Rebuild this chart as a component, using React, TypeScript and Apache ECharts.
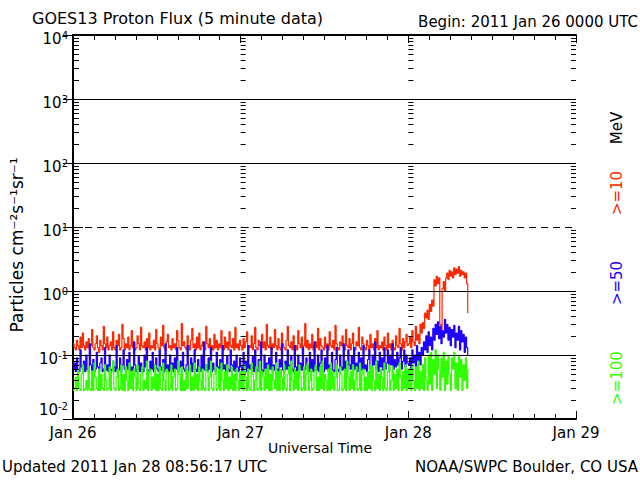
import React, { useEffect, useRef } from "react";
import * as echarts from "echarts";

// Time axis: hours since 2011 Jan 26 00:00 UTC, samples every 10 minutes
const STEP_HOURS = 1 / 6;
const xTickLabels = ["Jan 26", "Jan 27", "Jan 28", "Jan 29"];

// >=10 MeV (red)
const red26 = [
  0.15, 0.13, 0.12, 0.17, 0.14, 0.12, 0.19, 0.13, 0.22, 0.14, 0.12, 0.16,
  0.13, 0.18, 0.12, 0.14, 0.25, 0.13, 0.12, 0.15, 0.2, 0.13, 0.11, 0.17,
  0.14, 0.12, 0.28, 0.15, 0.13, 0.19, 0.12, 0.14, 0.16, 0.12, 0.23, 0.13,
  0.12, 0.17, 0.14, 0.21, 0.12, 0.13, 0.3, 0.18, 0.12, 0.15, 0.13, 0.19,
  0.12, 0.14, 0.24, 0.13, 0.16, 0.12, 0.13, 0.2, 0.15, 0.12, 0.27, 0.14,
  0.13, 0.16, 0.12, 0.18, 0.13, 0.22, 0.12, 0.14, 0.13, 0.17, 0.12, 0.25,
  0.15, 0.13, 0.12, 0.19, 0.14, 0.29, 0.13, 0.12, 0.16, 0.21, 0.13, 0.14,
  0.12, 0.18, 0.13, 0.15, 0.12, 0.24, 0.17, 0.13, 0.12, 0.31, 0.14, 0.16,
  0.13, 0.12, 0.2, 0.14, 0.12, 0.17, 0.26, 0.13, 0.15, 0.12, 0.19, 0.13,
  0.22, 0.12, 0.14, 0.16, 0.13, 0.12, 0.28, 0.15, 0.13, 0.18, 0.12, 0.14,
  0.12, 0.21, 0.13, 0.17, 0.12, 0.15, 0.13, 0.24, 0.14, 0.12, 0.19, 0.13,
  0.16, 0.12, 0.23, 0.14, 0.13, 0.18, 0.12, 0.27, 0.13, 0.15, 0.12, 0.17,
];
const red27 = [
  0.14, 0.12, 0.18, 0.13, 0.16, 0.23, 0.12, 0.14, 0.13, 0.2, 0.12, 0.15,
  0.27, 0.13, 0.12, 0.17, 0.14, 0.12, 0.21, 0.13, 0.16, 0.12, 0.3, 0.14,
  0.13, 0.19, 0.12, 0.15, 0.13, 0.25, 0.14, 0.12, 0.18, 0.13, 0.12, 0.22,
  0.15, 0.13, 0.12, 0.17, 0.28, 0.14, 0.13, 0.16, 0.12, 0.2, 0.13, 0.14,
  0.12, 0.24, 0.15, 0.13, 0.19, 0.12, 0.14, 0.31, 0.13, 0.17, 0.12, 0.15,
  0.13, 0.21, 0.12, 0.14, 0.16, 0.13, 0.26, 0.12, 0.18, 0.14, 0.13, 0.12,
  0.19, 0.13, 0.15, 0.12, 0.23, 0.14, 0.13, 0.17, 0.12, 0.29, 0.15, 0.13,
  0.12, 0.16, 0.14, 0.2, 0.13, 0.12, 0.25, 0.14, 0.13, 0.18, 0.12, 0.15,
  0.22, 0.13, 0.12, 0.16, 0.14, 0.27, 0.13, 0.12, 0.19, 0.15, 0.13, 0.12,
  0.17, 0.14, 0.12, 0.21, 0.13, 0.15, 0.12, 0.18, 0.13, 0.24, 0.12, 0.14,
  0.13, 0.16, 0.12, 0.19, 0.14, 0.12, 0.22, 0.13, 0.15, 0.12, 0.17, 0.13,
  0.12, 0.2, 0.14, 0.13, 0.26, 0.15, 0.12, 0.18, 0.13, 0.16, 0.21, 0.14,
];
const red28 = [
  0.15, 0.19, 0.13, 0.24, 0.16, 0.14, 0.28, 0.17, 0.21, 0.15, 0.3, 0.22,
  0.32, 0.26, 0.45, 0.38, 0.5, 0.36, 0.62, 0.48, 0.72, 0.58, 1.5, 1.2,
  1.7, 1.3, 1.6, 0.3, 0.24, 1.1, 1.4, 1.0, 1.6, 1.9, 1.5, 2.1,
  1.7, 2.0, 1.6, 2.3, 1.8, 2.2, 1.9, 2.4, 1.7, 2.1, 1.8, 2.0,
  1.6, 1.9, 1.3, 0.45,
];

// >=50 MeV (blue)
const blue26 = [
  0.06, 0.075, 0.055, 0.09, 0.06, 0.055, 0.12, 0.065, 0.058, 0.08, 0.055, 0.1,
  0.06, 0.055, 0.15, 0.07, 0.058, 0.085, 0.055, 0.06, 0.11, 0.065, 0.055, 0.075,
  0.09, 0.055, 0.06, 0.13, 0.058, 0.07, 0.055, 0.1, 0.06, 0.055, 0.08, 0.065,
  0.055, 0.14, 0.06, 0.058, 0.09, 0.055, 0.07, 0.12, 0.06, 0.055, 0.085, 0.06,
  0.11, 0.055, 0.065, 0.058, 0.16, 0.07, 0.055, 0.06, 0.095, 0.055, 0.075, 0.06,
  0.055, 0.1, 0.065, 0.13, 0.058, 0.055, 0.08, 0.06, 0.11, 0.055, 0.07, 0.09,
  0.06, 0.055, 0.12, 0.065, 0.058, 0.085, 0.055, 0.15, 0.06, 0.07, 0.055, 0.1,
  0.058, 0.075, 0.055, 0.09, 0.06, 0.13, 0.055, 0.065, 0.08, 0.055, 0.11, 0.06,
  0.055, 0.07, 0.14, 0.058, 0.06, 0.09, 0.055, 0.075, 0.12, 0.06, 0.055, 0.085,
  0.065, 0.055, 0.1, 0.06, 0.16, 0.058, 0.07, 0.055, 0.09, 0.06, 0.13, 0.055,
  0.075, 0.06, 0.055, 0.11, 0.065, 0.058, 0.085, 0.055, 0.14, 0.06, 0.07, 0.055,
  0.095, 0.06, 0.055, 0.12, 0.07, 0.058, 0.08, 0.055, 0.1, 0.065, 0.055, 0.09,
];
const blue27 = [
  0.065, 0.055, 0.11, 0.06, 0.08, 0.055, 0.14, 0.06, 0.07, 0.058, 0.095, 0.055,
  0.12, 0.06, 0.055, 0.085, 0.065, 0.16, 0.058, 0.055, 0.1, 0.06, 0.075, 0.055,
  0.09, 0.06, 0.13, 0.055, 0.07, 0.058, 0.11, 0.06, 0.055, 0.085, 0.065, 0.15,
  0.058, 0.055, 0.08, 0.06, 0.12, 0.055, 0.07, 0.095, 0.06, 0.055, 0.14, 0.065,
  0.055, 0.1, 0.06, 0.075, 0.058, 0.13, 0.055, 0.06, 0.09, 0.07, 0.055, 0.11,
  0.06, 0.085, 0.055, 0.16, 0.065, 0.058, 0.1, 0.055, 0.075, 0.12, 0.06, 0.055,
  0.09, 0.06, 0.14, 0.055, 0.07, 0.065, 0.11, 0.058, 0.055, 0.085, 0.13, 0.06,
  0.055, 0.1, 0.065, 0.058, 0.15, 0.06, 0.08, 0.055, 0.12, 0.07, 0.06, 0.095,
  0.055, 0.13, 0.06, 0.075, 0.055, 0.11, 0.065, 0.09, 0.058, 0.14, 0.06, 0.07,
  0.055, 0.085, 0.12, 0.06, 0.055, 0.1, 0.07, 0.16, 0.06, 0.08, 0.055, 0.11,
  0.065, 0.09, 0.058, 0.13, 0.06, 0.075, 0.12, 0.055, 0.1, 0.07, 0.15, 0.06,
  0.085, 0.065, 0.11, 0.07, 0.09, 0.13, 0.06, 0.08, 0.12, 0.065, 0.1, 0.075,
];
const blue28 = [
  0.07, 0.09, 0.06, 0.12, 0.075, 0.1, 0.065, 0.14, 0.08, 0.11, 0.07, 0.13,
  0.1, 0.16, 0.12, 0.2, 0.11, 0.23, 0.14, 0.19, 0.12, 0.26, 0.17, 0.3,
  0.21, 0.33, 0.18, 0.28, 0.15, 0.24, 0.19, 0.36, 0.22, 0.3, 0.17, 0.27,
  0.14, 0.25, 0.19, 0.29, 0.13, 0.22, 0.17, 0.28, 0.12, 0.24, 0.16, 0.21,
  0.11, 0.19, 0.13, 0.1,
];

// >=100 MeV (green)
const green26 = [
  0.028, 0.03, 0.045, 0.028, 0.06, 0.03, 0.028, 0.05, 0.07, 0.028, 0.03, 0.04,
  0.028, 0.065, 0.03, 0.028, 0.055, 0.028, 0.075, 0.045, 0.03, 0.028, 0.06, 0.028,
  0.05, 0.03, 0.028, 0.07, 0.04, 0.028, 0.03, 0.065, 0.028, 0.055, 0.08, 0.03,
  0.028, 0.045, 0.06, 0.028, 0.03, 0.07, 0.028, 0.05, 0.028, 0.065, 0.04, 0.028,
  0.075, 0.03, 0.055, 0.028, 0.06, 0.045, 0.028, 0.07, 0.03, 0.028, 0.05, 0.065,
  0.028, 0.04, 0.03, 0.08, 0.028, 0.055, 0.06, 0.028, 0.045, 0.03, 0.07, 0.028,
  0.05, 0.028, 0.065, 0.03, 0.028, 0.075, 0.04, 0.028, 0.06, 0.055, 0.028, 0.03,
  0.07, 0.028, 0.045, 0.06, 0.028, 0.03, 0.08, 0.05, 0.028, 0.065, 0.028, 0.04,
  0.028, 0.06, 0.03, 0.055, 0.07, 0.028, 0.045, 0.028, 0.075, 0.03, 0.05, 0.028,
  0.065, 0.04, 0.028, 0.06, 0.03, 0.028, 0.07, 0.055, 0.028, 0.045, 0.08, 0.03,
  0.028, 0.05, 0.065, 0.028, 0.03, 0.06, 0.028, 0.075, 0.04, 0.028, 0.055, 0.03,
  0.07, 0.028, 0.045, 0.03, 0.065, 0.028, 0.05, 0.028, 0.06, 0.04, 0.028, 0.055,
];
const green27 = [
  0.03, 0.055, 0.028, 0.07, 0.045, 0.028, 0.06, 0.03, 0.028, 0.075, 0.05, 0.028,
  0.04, 0.065, 0.028, 0.03, 0.08, 0.028, 0.055, 0.045, 0.028, 0.06, 0.03, 0.07,
  0.028, 0.05, 0.028, 0.065, 0.04, 0.03, 0.075, 0.028, 0.055, 0.028, 0.06, 0.045,
  0.028, 0.07, 0.03, 0.028, 0.05, 0.065, 0.028, 0.08, 0.04, 0.028, 0.06, 0.03,
  0.055, 0.028, 0.07, 0.045, 0.028, 0.03, 0.065, 0.028, 0.05, 0.075, 0.028, 0.04,
  0.06, 0.028, 0.03, 0.055, 0.07, 0.028, 0.045, 0.028, 0.065, 0.03, 0.08, 0.028,
  0.05, 0.04, 0.028, 0.06, 0.028, 0.075, 0.03, 0.055, 0.028, 0.045, 0.07, 0.028,
  0.028, 0.065, 0.05, 0.028, 0.03, 0.06, 0.028, 0.08, 0.045, 0.028, 0.055, 0.03,
  0.07, 0.028, 0.04, 0.065, 0.028, 0.03, 0.075, 0.028, 0.05, 0.06, 0.028, 0.045,
  0.028, 0.055, 0.03, 0.07, 0.028, 0.065, 0.04, 0.028, 0.08, 0.03, 0.05, 0.028,
  0.06, 0.045, 0.028, 0.075, 0.03, 0.028, 0.055, 0.07, 0.028, 0.04, 0.065, 0.028,
  0.05, 0.03, 0.06, 0.028, 0.075, 0.045, 0.028, 0.055, 0.03, 0.07, 0.028, 0.06,
];
const green28 = [
  0.03, 0.06, 0.028, 0.07, 0.04, 0.028, 0.065, 0.03, 0.08, 0.028, 0.055, 0.03,
  0.07, 0.028, 0.09, 0.04, 0.028, 0.1, 0.035, 0.11, 0.028, 0.085, 0.05, 0.12,
  0.03, 0.1, 0.06, 0.028, 0.09, 0.045, 0.11, 0.028, 0.08, 0.035, 0.1, 0.05,
  0.028, 0.09, 0.06, 0.11, 0.03, 0.075, 0.028, 0.1, 0.045, 0.085, 0.028, 0.07,
  0.04, 0.09, 0.03, 0.06,
];

const redFlux = [...red26, ...red27, ...red28];
const blueFlux = [...blue26, ...blue27, ...blue28];
const greenFlux = [...green26, ...green27, ...green28];

const RED = "#ff2800";
const BLUE = "#2000ff";
const GREEN = "#30ff00";
const FONT = "DejaVu Sans";
const LINE_W = 1.2;

const solidGridValues = [1000, 100, 1, 0.1];
const dashedGridValues = [10];

export default function App() {
  const ref = useRef<HTMLDivElement>(null);

  useEffect(() => {
    if (!ref.current) return;
    const chart = echarts.init(ref.current, null, { renderer: "svg" });

    const toPairs = (arr: number[]) => arr.map((v, i) => [i * STEP_HOURS, v]);

    // minor log ticks (2..9 per decade) and decade ticks for the inner columns
    const tickItems: number[][] = [];
    for (let d = -2; d <= 3; d++) {
      for (let m = 2; m <= 9; m++) tickItems.push([0, m * Math.pow(10, d), 0]);
    }
    for (let d = -2; d <= 4; d++) tickItems.push([0, Math.pow(10, d), 1]);

    const xAxisCommon = {
      type: "value",
      min: 0,
      max: 72,
      interval: 24,
      axisLine: { show: true, lineStyle: { color: "#000", width: 2 } },
      axisTick: { show: true, inside: true, length: 8, lineStyle: { color: "#000", width: 1 } },
      minorTick: { show: true, splitNumber: 8, length: 5, lineStyle: { color: "#000", width: 1 } },
      splitLine: { show: false },
      minorSplitLine: { show: false },
    };

    const yAxisCommon = {
      type: "log",
      logBase: 10,
      min: 0.01,
      max: 10000,
      splitNumber: 6,
      axisLine: { show: true, lineStyle: { color: "#000", width: 2 } },
      axisTick: { show: true, inside: true, length: 10, lineStyle: { color: "#000", width: 1 } },
      splitLine: { show: false },
    };

    const lineSeries = (name: string, arr: number[], color: string, z: number) => ({
      name,
      type: "line",
      step: "end",
      symbol: "none",
      data: toPairs(arr),
      lineStyle: { color, width: LINE_W },
      itemStyle: { color },
      z,
    });

    chart.setOption({
      animation: false,
      backgroundColor: "#fff",
      grid: { left: 73, right: 64, top: 35, bottom: 61, containLabel: false },
      xAxis: [
        {
          ...xAxisCommon,
          position: "bottom",
          axisLabel: {
            show: true,
            margin: 6,
            color: "#000",
            fontFamily: FONT,
            fontSize: 15,
            formatter: (v: number) => xTickLabels[Math.round(v / 24)] ?? "",
          },
        },
        { ...xAxisCommon, position: "top", axisLabel: { show: false } },
      ],
      yAxis: [
        {
          ...yAxisCommon,
          position: "left",
          axisLabel: {
            show: true,
            margin: 5,
            color: "#000",
            fontFamily: FONT,
            fontSize: 15,
            showMinLabel: true,
            showMaxLabel: true,
            padding: [6, 0, 0, 0],
            formatter: (v: number) => {
              const ex = Math.round(Math.log10(v));
              const main = "{b|10}{e|" + ex + "}";
              return ex === -2 ? main + "\n{sp|\u00a0}" : main;
            },
            rich: {
              b: { fontFamily: FONT, fontSize: 15, lineHeight: 16, verticalAlign: "bottom", color: "#000" },
              e: { fontFamily: FONT, fontSize: 10, lineHeight: 10, verticalAlign: "top", padding: [0, 0, 10, 0], color: "#000" },
              sp: { fontFamily: FONT, fontSize: 10, lineHeight: 26, color: "#000" },
            },
          },
        },
        { ...yAxisCommon, position: "right", axisLabel: { show: false } },
      ],
      series: [
        lineSeries(">=10", redFlux, RED, 2),
        lineSeries(">=50", blueFlux, BLUE, 3),
        lineSeries(">=100", greenFlux, GREEN, 4),
        {
          name: "grid",
          type: "line",
          data: [],
          z: 10,
          markLine: {
            silent: true,
            symbol: "none",
            label: { show: false },
            data: [
              ...solidGridValues.map((v) => ({ yAxis: v, lineStyle: { color: "#000", width: 1.2, type: "solid" } })),
              ...dashedGridValues.map((v) => ({ yAxis: v, lineStyle: { color: "#000", width: 1.2, type: [7, 5] } })),
            ],
          },
        },
        {
          name: "ticks",
          type: "custom",
          z: 11,
          clip: false,
          silent: true,
          data: tickItems,
          encode: { x: 0, y: 1 },
          renderItem: (params: any, api: any) => {
            const v = api.value(1);
            const major = api.value(2) === 1;
            const pL = api.coord([0, v]);
            const pR = api.coord([72, v]);
            const p27 = api.coord([24, v]);
            const p28 = api.coord([48, v]);
            const y = Math.round(pL[1]) + 0.5;
            const style = { stroke: "#000", lineWidth: 1 };
            const seg = (x1: number, x2: number) => ({
              type: "line",
              shape: { x1, y1: y, x2, y2: y },
              style,
            });
            const len = major ? 8 : 5;
            const children: any[] = [seg(p27[0], p27[0] + len), seg(p28[0], p28[0] + len)];
            if (!major) {
              children.push(seg(pL[0], pL[0] + 6));
              children.push(seg(pR[0] - 5, pR[0]));
            }
            return { type: "group", children };
          },
        },
      ],
      graphic: [
        {
          type: "text",
          x: 32,
          y: 18,
          style: { text: "GOES13 Proton Flux (5 minute data)", fontFamily: FONT, fontSize: 16, fill: "#000", textAlign: "left", textVerticalAlign: "middle" },
        },
        {
          type: "text",
          x: 638,
          y: 22,
          style: { text: "Begin: 2011 Jan 26 0000 UTC", fontFamily: FONT, fontSize: 15, fill: "#000", textAlign: "right", textVerticalAlign: "middle" },
        },
        {
          type: "text",
          x: 320,
          y: 448,
          style: { text: "Universal Time", fontFamily: FONT, fontSize: 14, fill: "#000", textAlign: "center", textVerticalAlign: "middle" },
        },
        {
          type: "text",
          x: 2,
          y: 467,
          style: { text: "Updated 2011 Jan 28 08:56:17 UTC", fontFamily: FONT, fontSize: 15, fill: "#000", textAlign: "left", textVerticalAlign: "middle" },
        },
        {
          type: "text",
          x: 638,
          y: 467,
          style: { text: "NOAA/SWPC Boulder, CO USA", fontFamily: FONT, fontSize: 15, fill: "#000", textAlign: "right", textVerticalAlign: "middle" },
        },
        {
          type: "text",
          x: 17,
          y: 245,
          rotation: Math.PI / 2,
          style: { text: "Particles cm⁻²s⁻¹sr⁻¹", fontFamily: FONT, fontSize: 17, fill: "#000", textAlign: "center", textVerticalAlign: "middle" },
        },
        {
          type: "text",
          x: 617,
          y: 128,
          rotation: Math.PI / 2,
          style: { text: "MeV", fontFamily: FONT, fontSize: 15, fill: "#000", textAlign: "center", textVerticalAlign: "middle" },
        },
        {
          type: "text",
          x: 617,
          y: 193,
          rotation: Math.PI / 2,
          style: { text: ">=10", fontFamily: FONT, fontSize: 15, fill: RED, textAlign: "center", textVerticalAlign: "middle" },
        },
        {
          type: "text",
          x: 617,
          y: 283,
          rotation: Math.PI / 2,
          style: { text: ">=50", fontFamily: FONT, fontSize: 15, fill: BLUE, textAlign: "center", textVerticalAlign: "middle" },
        },
        {
          type: "text",
          x: 617,
          y: 378,
          rotation: Math.PI / 2,
          style: { text: ">=100", fontFamily: FONT, fontSize: 15, fill: GREEN, textAlign: "center", textVerticalAlign: "middle" },
        },
      ],
    });

    return () => chart.dispose();
  }, []);

  return (
    <div
      ref={ref}
      style={{ position: "fixed", left: 0, top: 0, width: 640, height: 480, background: "#fff" }}
    />
  );
}
